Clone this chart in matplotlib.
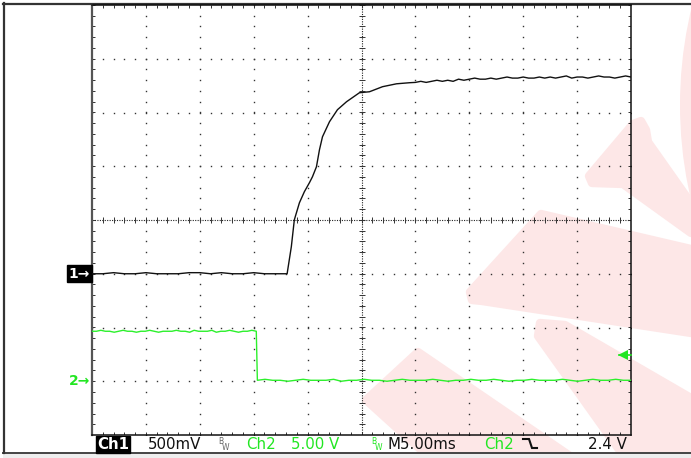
import numpy as np
import matplotlib
matplotlib.use("Agg")
import matplotlib.pyplot as plt
from matplotlib.patches import Polygon, Circle, Rectangle
from matplotlib.collections import LineCollection
import matplotlib.transforms as mtransforms

# ---------------- data (read from the screen) ----------------
# time in ms relative to screen centre, 5 ms/div, 10 div
ch1_base_t = [-25, -24, -23, -22, -21, -20, -19, -18, -17, -16, -15, -14, -13, -12, -11, -10, -9, -8, -7]
ch1_base_v = [0.0, 0.0, 0.01, 0.0, 0.0, 0.01, 0.0, 0.0, 0.0, 0.01, 0.01, 0.0, 0.01, 0.0, 0.0, 0.01, 0.0, 0.0, 0.0]
ch1_rise_t = [-6.9, -6.51, -6.23, -5.76, -5.30, -4.83, -4.55, -4.18, -3.90, -3.62, -2.97, -2.23, -1.39, -0.19, 0.74, 1.95, 3.25, 4.46]
ch1_rise_v = [0.0, 0.251, 0.502, 0.660, 0.763, 0.847, 0.902, 0.995, 1.153, 1.274, 1.414, 1.526, 1.600, 1.684, 1.693, 1.740, 1.767, 1.777]
ch1_tail_t = [5.0, 5.5, 6.0, 6.5, 7.0, 7.5, 8.0, 8.5, 9.0, 9.5, 10.0, 10.5, 11.0, 11.5, 12.0, 12.5, 13.0, 13.5,
              14.0, 14.5, 15.0, 15.5, 16.0, 16.5, 17.0, 17.5, 18.0, 18.5, 19.0, 19.5, 20.0, 20.5, 21.0, 21.5,
              22.0, 22.5, 23.0, 23.5, 24.0, 24.5, 25.0]
ch1_tail_v = [1.78, 1.79, 1.78, 1.79, 1.80, 1.79, 1.80, 1.79, 1.81, 1.80, 1.81, 1.82, 1.81, 1.81, 1.82, 1.81,
              1.82, 1.83, 1.82, 1.82, 1.83, 1.82, 1.82, 1.83, 1.82, 1.83, 1.82, 1.83, 1.84, 1.82, 1.83, 1.83,
              1.82, 1.83, 1.84, 1.83, 1.83, 1.82, 1.83, 1.84, 1.83]

ch2_fall_t = -9.76
ch2_high_v = [4.65, 4.65, 4.74, 4.65, 4.65, 4.56, 4.65, 4.74, 4.65, 4.65, 4.56, 4.65, 4.65, 4.74, 4.65, 4.56,
              4.65, 4.65, 4.65, 4.74, 4.65, 4.65, 4.56, 4.74, 4.65, 4.65, 4.65, 4.74, 4.56, 4.65, 4.65, 4.74,
              4.65, 4.56, 4.65, 4.65, 4.74, 4.65]
ch2_low_v = [0.09, 0.18, 0.09, 0.09, 0.0, 0.09, 0.18, 0.09, 0.09, 0.09, 0.18, 0.0, 0.09, 0.09, 0.18, 0.09,
             0.09, 0.0, 0.09, 0.18, 0.09, 0.09, 0.09, 0.18, 0.09, 0.0, 0.09, 0.09, 0.18, 0.09, 0.09, 0.18,
             0.09, 0.0, 0.09, 0.09, 0.18, 0.09, 0.09, 0.09, 0.18, 0.09, 0.0, 0.09, 0.18, 0.09, 0.09, 0.18,
             0.09, 0.09]

ch1_scale = 0.5      # V/div
ch2_scale = 5.0      # V/div
ch1_pos = -1.0       # div
ch2_pos = -3.0       # div
trig_level = 2.4     # V on Ch2

status_labels = ["Ch1", "500mV", "Ch2", "5.00 V", "M5.00ms", "Ch2", "2.4 V"]

GREEN = "#22e622"
TRACE_GREEN = "#2cf02c"
PINK = "#fde7e7"

# ---------------- figure ----------------
W, H = 691, 458
fig = plt.figure(figsize=(W / 100, H / 100), dpi=100)
fig.patch.set_facecolor("white")

bg = fig.add_axes([0, 0, 1, 1], zorder=0)
bg.set_xlim(0, W)
bg.set_ylim(H, 0)
bg.axis("off")

# watermark shapes (decorative)
wm = dict(facecolor=PINK, edgecolor=PINK, linewidth=6, joinstyle="round", zorder=0)
bg.add_patch(Circle((1096, 105), 416, facecolor=PINK, edgecolor="none", zorder=0))
bg.add_patch(Polygon([(589, 176), (633, 124), (641, 121), (646, 130), (648, 142), (691, 203),
                      (691, 233), (623, 184), (592, 183)], closed=True, **wm))
bg.add_patch(Polygon([(541, 214), (691, 249), (691, 333), (482, 301), (472, 300), (470, 292)],
                     closed=True, **wm))
bg.add_patch(Polygon([(366, 400), (418, 352), (573, 458), (430, 458)], closed=True, **wm))
bg.add_patch(Polygon([(540, 323), (565, 325), (691, 398), (691, 458), (625, 458), (538, 336)],
                     closed=True, **wm))

# bottom strip and outer frame
bg.add_patch(Rectangle((3, 453), W, 6, facecolor="#eeeeee", edgecolor="none", zorder=1))
bg.plot([3, W], [452.5, 452.5], color="#444444", lw=1.4, zorder=2)
bg.plot([3, W], [3.5, 3.5], color="#333333", lw=1.6, zorder=2)
bg.plot([4, 4], [3, 453], color="#333333", lw=1.6, zorder=2)

# ---------------- main graticule axes ----------------
x0, x1, y0, y1 = 92, 631, 5, 435
ax = fig.add_axes([x0 / W, (H - y1) / H, (x1 - x0) / W, (y1 - y0) / H], zorder=2)
ax.set_facecolor("none")
ax.set_xlim(-25, 25)
ax.set_ylim(-4, 4)
ax.set_xticks([])
ax.set_yticks([])
for s in ["right", "bottom", "top"]:
    ax.spines[s].set_color("#111111")
    ax.spines[s].set_linewidth(1.1)
ax.spines["left"].set_color("#555555")
ax.spines["left"].set_linewidth(1.6)

dot_y = np.arange(-4, 4.001, 0.2)
dot_x = np.arange(-25, 25.001, 1.0)
for gx in np.arange(-20, 21, 5):
    if gx == 0:
        continue
    ax.plot(np.full_like(dot_y, gx), dot_y, ls="none", marker="s", ms=1.0, mew=0, color="#333333")
for gy in np.arange(-3, 4, 1):
    if gy == 0:
        continue
    ax.plot(dot_x, np.full_like(dot_x, gy), ls="none", marker="s", ms=1.0, mew=0, color="#333333")

# centre cross lines
ax.axhline(0, color="#222222", lw=0.8, ls=(0, (1, 1.2)))
ax.axvline(0, color="#222222", lw=0.8, ls=(0, (1, 1.2)))
tick_half_y = 3 / 53.75
tick_half_x = 3 / 53.9 * 5
segs = []
for t in dot_x:
    segs.append([(t, -tick_half_y), (t, tick_half_y)])
for v in dot_y:
    segs.append([(-tick_half_x, v), (tick_half_x, v)])
# border ticks
bt_y = 3 / 53.75
bt_x = 3 / 53.9 * 5
for t in dot_x:
    segs.append([(t, -4), (t, -4 + bt_y)])
    segs.append([(t, 4), (t, 4 - bt_y)])
for v in dot_y:
    segs.append([(-25, v), (-25 + bt_x, v)])
    segs.append([(25, v), (25 - bt_x, v)])
ax.add_collection(LineCollection(segs, colors="#333333", linewidths=0.7))

# ---------------- traces ----------------
ch1_t = ch1_base_t + ch1_rise_t + ch1_tail_t
ch1_v = ch1_base_v + ch1_rise_v + ch1_tail_v
ax.plot(ch1_t, np.array(ch1_v) / ch1_scale + ch1_pos, color="#111111", lw=1.0, zorder=5)

t_high = np.linspace(-25, ch2_fall_t, len(ch2_high_v))
t_low = np.linspace(ch2_fall_t + 0.1, 25, len(ch2_low_v))
ch2_t = list(t_high) + list(t_low)
ch2_v = ch2_high_v + ch2_low_v
ax.plot(ch2_t, np.array(ch2_v) / ch2_scale + ch2_pos, color=TRACE_GREEN, lw=1.0, zorder=5)

# ---------------- channel markers ----------------
blend = mtransforms.blended_transform_factory(ax.transAxes, ax.transData)
ax.text(-0.004, ch1_pos, "1\u2192", transform=blend, ha="right", va="center", color="white",
        fontsize=10, fontweight="bold", clip_on=False,
        bbox=dict(boxstyle="square,pad=0.12", facecolor="black", edgecolor="black"))
ax.text(-0.004, ch2_pos, "2\u2192", transform=blend, ha="right", va="center", color=GREEN,
        fontsize=10, fontweight="bold", clip_on=False)
trig_y = trig_level / ch2_scale + ch2_pos
ax.plot([23.9, 25], [trig_y, trig_y], color=GREEN, lw=1.2, clip_on=False, zorder=6)
ax.plot([24.3], [trig_y], marker="<", ms=7, color=GREEN, mew=0, clip_on=False, zorder=6)

# ---------------- status bar ----------------
fs = 10.8
bg.text(97, 449, status_labels[0], color="white", fontsize=fs, fontweight="bold", va="baseline", ha="left",
        zorder=3, bbox=dict(boxstyle="square,pad=0.08", facecolor="black", edgecolor="black"))
bg.text(148, 449, status_labels[1], color="#111111", fontsize=fs, va="baseline", ha="left", zorder=3)
bg.text(218, 444, "B", color="#666666", fontsize=5.5, va="baseline", ha="left", zorder=3)
bg.text(222, 450, "W", color="#666666", fontsize=5.5, va="baseline", ha="left", zorder=3)
bg.text(246, 449, status_labels[2], color=GREEN, fontsize=fs, va="baseline", ha="left", zorder=3)
bg.text(291, 449, status_labels[3], color=GREEN, fontsize=fs, va="baseline", ha="left", zorder=3)
bg.text(371, 444, "B", color=GREEN, fontsize=5.5, va="baseline", ha="left", zorder=3)
bg.text(375, 450, "W", color=GREEN, fontsize=5.5, va="baseline", ha="left", zorder=3)
bg.text(388, 449, status_labels[4], color="#111111", fontsize=fs, va="baseline", ha="left", zorder=3)
bg.text(484, 449, status_labels[5], color=GREEN, fontsize=fs, va="baseline", ha="left", zorder=3)
bg.plot([523, 529, 532, 537], [439, 439, 448, 448], color="#111111", lw=1.5, zorder=3,
        solid_joinstyle="miter")
bg.text(627, 449, status_labels[6], color="#111111", fontsize=fs, va="baseline", ha="right", zorder=3)

fig.savefig("out.png", dpi=100, facecolor="white")
